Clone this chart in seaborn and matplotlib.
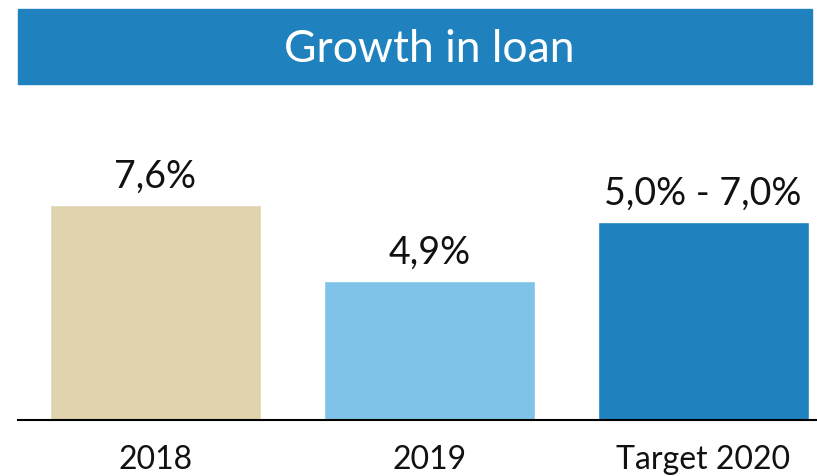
import numpy as np
import pandas as pd
import matplotlib
matplotlib.use('Agg')
import matplotlib.pyplot as plt
import seaborn as sns

# data
categories = ['2018', '2019', 'Target 2020']
values = [7.6, 4.9, 7.0]
value_labels = ['7,6%', '4,9%', '5,0% - 7,0%']
bar_colors = ['#E0D4AE', '#7FC4E8', '#1F82BE']
title = 'Growth in loan'

df = pd.DataFrame({'cat': categories, 'val': values})

sns.set_style('white')
plt.rcParams['font.family'] = ['Lato', 'DejaVu Sans']

fig = plt.figure(figsize=(8.17, 4.77), dpi=100)

# title banner
fig.patches.append(plt.Rectangle((18 / 817, 1 - 85 / 477), (812 - 18) / 817, 75 / 477,
                                 transform=fig.transFigure, color='#1F82BE', zorder=0))
fig.text(429 / 817, 1 - 50 / 477, title, color='white', fontsize=32,
         ha='center', va='center')

ax = fig.add_axes([18 / 817, 1 - 421 / 477, 799 / 817, 321 / 477])
sns.barplot(data=df, x='cat', y='val', hue='cat', palette=bar_colors,
            width=0.77, saturation=1, legend=False, ax=ax)

ax.set_xlim(-0.502, 2.416)
ax.set_ylim(0, 321 / 28.3)

for i, (v, lab) in enumerate(zip(values, value_labels)):
    ax.annotate(lab, (i, v), xytext=(0, 8), textcoords='offset points',
                ha='center', va='bottom', fontsize=27, color='#111111')

sns.despine(ax=ax, left=True)
ax.spines['bottom'].set_color('black')
ax.spines['bottom'].set_linewidth(1.5)
ax.set_yticks([])
ax.set_xlabel('')
ax.set_ylabel('')
ax.tick_params(axis='x', length=0, pad=17, labelsize=23, labelcolor='#111111')

fig.savefig('out.png', dpi=100)
